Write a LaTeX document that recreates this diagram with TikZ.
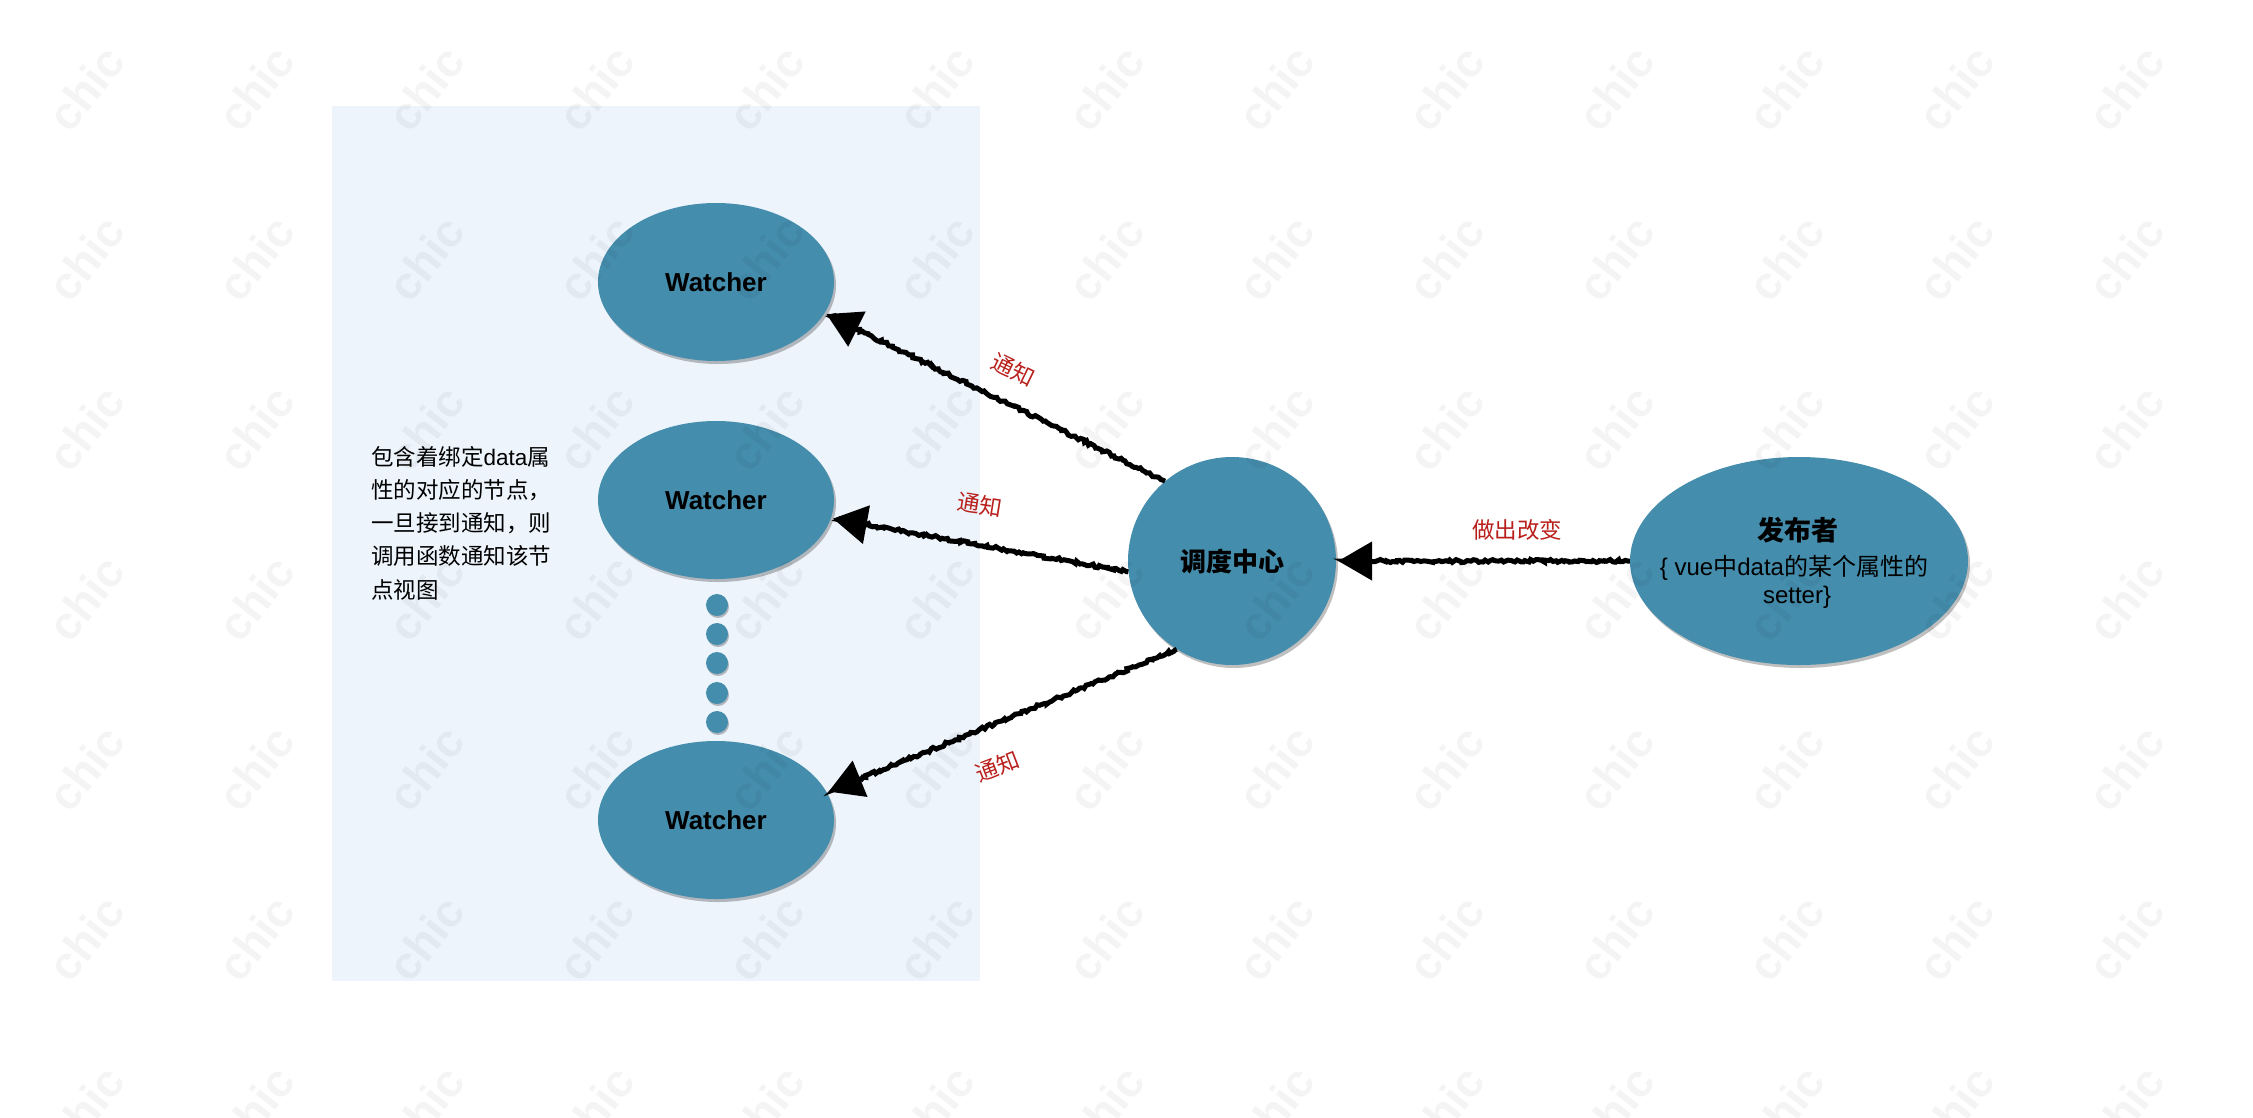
\documentclass[tikz,border=0pt]{standalone}
\usepackage{fontspec}
\setmainfont{Liberation Sans}
\newfontfamily\cjk{Noto Sans CJK SC}
\usetikzlibrary{arrows.meta,decorations.pathmorphing,shadows,shapes.geometric}
\definecolor{bubblefill}{RGB}{68,141,172}
\definecolor{panelfill}{RGB}{237,244,251}
\definecolor{labred}{RGB}{185,32,28}
\newcommand\zh[1]{{\cjk #1}}
\begin{document}
\pgfmathsetseed{7}
\begin{tikzpicture}[x=1pt,y=-1pt,
  bubble/.style={ellipse, fill=bubblefill, inner sep=0pt,
    drop shadow={shadow xshift=2pt, shadow yshift=-3pt, opacity=0.25, fill=black}},
  watcher/.style={bubble, minimum width=236pt, minimum height=158pt,
    font=\bfseries\fontsize{26}{26}\selectfont},
  dotnode/.style={circle, fill=bubblefill, inner sep=0pt, minimum size=22pt,
    drop shadow={shadow xshift=1pt, shadow yshift=-2pt, opacity=0.25, fill=black}},
  sketcharrow/.style={line width=5pt, decorate,
    decoration={random steps, segment length=2.5pt, amplitude=1.5pt, pre length=2pt, post length=8pt},
    -{Triangle[length=34pt,width=38pt]}, shorten >=2pt},
  lab/.style={text=labred, font=\cjk\fontsize{22.5}{22.5}\selectfont, inner sep=0pt},
  wmark/.style={text=black, opacity=0.045, font=\bfseries\fontsize{46}{46}\selectfont, rotate=52, inner sep=0pt}
]
\useasboundingbox (0,0) rectangle (2253,1117);
\fill[white] (0,0) rectangle (2253,1117);

% panel
\node[fill=panelfill, inner sep=0pt, minimum width=648pt, minimum height=875pt, anchor=north west] (panel) at (332,106) {};

% watchers
\node[watcher] (w1) at (716,282) {Watcher};
\node[watcher] (w2) at (716,500) {Watcher};
\node[watcher] (w3) at (716,820) {Watcher};
\foreach \i/\y in {1/605,2/634,3/663,4/693,5/722}
  \node[dotnode] (dot\i) at (717,\y) {};

% note
\node[anchor=north west, align=left, inner sep=0pt, font=\cjk\fontsize{22.5}{33.2}\selectfont] (note) at (371,446)
  {包含着绑定{\rmfamily data}属\\性的对应的节点，\\一旦接到通知，则\\调用函数通知该节\\点视图};

% hub
\node[bubble, circle, minimum size=208pt, font=\cjk\bfseries\fontsize{26}{26}\selectfont] (hub) at (1232,561) {调度中心};

% publisher
\node[bubble, minimum width=338pt, minimum height=208pt] (pub) at (1799,561) {};
\node[font=\cjk\bfseries\fontsize{27}{27}\selectfont, inner sep=0pt] (pubtitle) at (1798,530) {发布者};
\node[font=\fontsize{24}{24}\selectfont, inner sep=0pt] (publine) at (1794,568) {\{ vue\zh{中}data\zh{的某个属性的}};
\node[font=\fontsize{24}{24}\selectfont, inner sep=0pt] (pubsetter) at (1797,597) {setter\}};

% arrows
\draw[sketcharrow] (hub.130) -- (w1.-16);
\draw[sketcharrow] (hub.186) -- (w2.-9);
\draw[sketcharrow] (hub.238) -- (w3.14);
\draw[sketcharrow] (pub.west) -- (hub.east);

% labels
\node[lab, rotate=-26] (l1) at (1013,370) {通知};
\node[lab, rotate=-9] (l2) at (980,505) {通知};
\node[lab, rotate=21] (l3) at (997,766) {通知};
\node[lab] (l4) at (1517,530) {做出改变};

% watermark
\begin{scope}
\clip (0,0) rectangle (2253,1117);
\foreach \c in {0,...,12}
  \foreach \r in {0,...,6}
    \node[wmark] (wm-\c-\r) at ({86+170*\c},{88+170*\r}) {chic};
\end{scope}
\end{tikzpicture}
\end{document}
